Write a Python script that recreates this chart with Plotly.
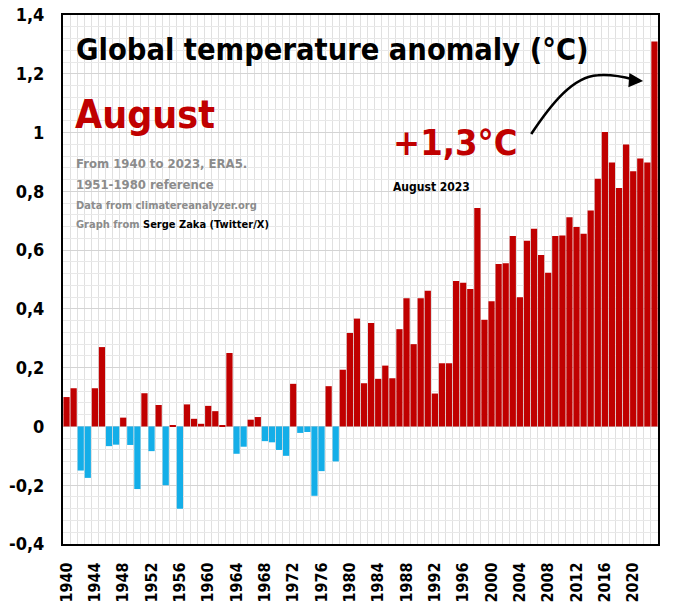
import plotly.graph_objects as go

# August global temperature anomaly (°C), ERA5, 1951-1980 reference
years = list(range(1940, 2024))
anomaly = [
    0.10, 0.13, -0.15, -0.175, 0.13, 0.27, -0.067, -0.062, 0.03, -0.063,
    -0.213, 0.113, -0.084, 0.073, -0.20, 0.002, -0.28, 0.075, 0.026, 0.009,
    0.07, 0.052, 0.003, 0.25, -0.093, -0.069, 0.023, 0.032, -0.05, -0.054,
    -0.08, -0.10, 0.145, -0.022, -0.019, -0.236, -0.152, 0.137, -0.119, 0.193,
    0.318, 0.367, 0.147, 0.352, 0.162, 0.207, 0.164, 0.331, 0.436, 0.28,
    0.436, 0.462, 0.112, 0.215, 0.215, 0.495, 0.489, 0.468, 0.743, 0.363,
    0.426, 0.553, 0.555, 0.648, 0.44, 0.632, 0.673, 0.583, 0.523, 0.648,
    0.65, 0.712, 0.679, 0.656, 0.735, 0.843, 1.002, 0.898, 0.811, 0.959,
    0.868, 0.912, 0.898, 1.31,
]

x_ticks = list(range(1940, 2021, 4))
y_ticks = [-0.4, -0.2, 0, 0.2, 0.4, 0.6, 0.8, 1, 1.2, 1.4]
y_labels = ["-0,4", "-0,2", "0", "0,2", "0,4", "0,6", "0,8", "1", "1,2", "1,4"]

RED = "#c00000"
BLUE = "#14aee8"
GRAY = "#8c8c8c"
FONT = "DejaVu Sans Condensed, Liberation Sans Narrow, Roboto, sans-serif"

colors = [RED if v >= 0 else BLUE for v in anomaly]

fig = go.Figure()
fig.add_trace(go.Bar(
    x=years, y=anomaly,
    marker=dict(color=colors, line=dict(width=0)),
    hoverinfo="x+y",
))

# the page body adds an 8px offset, so the figure is 8px smaller than the window
# plot area in window pixels: left 63, right 658, top 15, bottom 544
def px(xp):
    return (xp - 63) / 595

def py(yp):
    return (544 - yp) / 529

annotations = [
    dict(x=px(74), y=py(50), text="<b>Global temperature anomaly (°C)</b>",
         font=dict(size=30.5, color="black")),
    dict(x=px(73), y=py(114), text="<b>August</b>",
         font=dict(size=39, color=RED)),
    dict(x=px(74), y=py(163), text="<b>From 1940 to 2023, ERA5.</b>",
         font=dict(size=13, color=GRAY)),
    dict(x=px(74), y=py(185), text="<b>1951-1980 reference</b>",
         font=dict(size=13, color=GRAY)),
    dict(x=px(74), y=py(205), text="<b>Data from climatereanalyzer.org</b>",
         font=dict(size=11, color=GRAY)),
    dict(x=px(74), y=py(224),
         text="<b>Graph from <span style='color:black'>Serge Zaka (Twitter/X)</span></b>",
         font=dict(size=11, color=GRAY)),
    dict(x=px(391), y=py(142), text="<b>+1,3°C</b>",
         font=dict(size=36, color=RED)),
    dict(x=px(391), y=py(187), text="<b>August 2023</b>",
         font=dict(size=12, color="black")),
]
for a in annotations:
    a.update(xref="paper", yref="paper", xanchor="left", yanchor="middle",
             showarrow=False)
    a["font"]["family"] = FONT

# arrowhead at the end of the curved arrow
annotations.append(dict(
    x=2021.4, y=1.175, xref="x", yref="y", ax=-15, ay=-1, text="",
    showarrow=True, arrowhead=2, arrowsize=1.1, arrowwidth=2.6, arrowcolor="black",
))

fig.update_layout(
    width=672, height=596,
    margin=dict(l=55, r=22, t=7, b=60, autoexpand=False),
    paper_bgcolor="white", plot_bgcolor="white",
    bargap=0.12,
    showlegend=False,
    font=dict(family=FONT, color="black"),
    annotations=annotations,
    shapes=[
        dict(type="path", xref="x", yref="y",
             path="M 2005.6,0.995 C 2008.5,1.10 2011.5,1.19 2015,1.195 C 2017.5,1.20 2019.3,1.185 2020.6,1.177",
             line=dict(color="black", width=2.6)),
    ],
)

fig.update_xaxes(
    range=[1939.5, 2023.5], automargin=False,
    tickvals=x_ticks, tickangle=-90, ticks="",
    tickfont=dict(size=16, family=FONT, weight="bold"),
    ticklabelstandoff=10,
    showgrid=False, zeroline=False,
    minor=dict(tick0=1939.5, dtick=1, showgrid=True, gridcolor="#e0e0e0", gridwidth=1),
    showline=True, mirror=True, linecolor="black", linewidth=2,
)
fig.update_yaxes(
    range=[-0.4, 1.4], automargin=False,
    tickvals=y_ticks, ticktext=y_labels, ticks="",
    tickfont=dict(size=18, family=FONT, weight="bold"),
    ticklabelstandoff=13, ticklabeloverflow="allow",
    showgrid=True, gridcolor="#d4d4d4", gridwidth=1, zeroline=False,
    minor=dict(tick0=-0.4, dtick=0.04, showgrid=True, gridcolor="#e8e8e8", gridwidth=1),
    showline=True, mirror=True, linecolor="black", linewidth=2,
)

fig.write_html("out.html")
